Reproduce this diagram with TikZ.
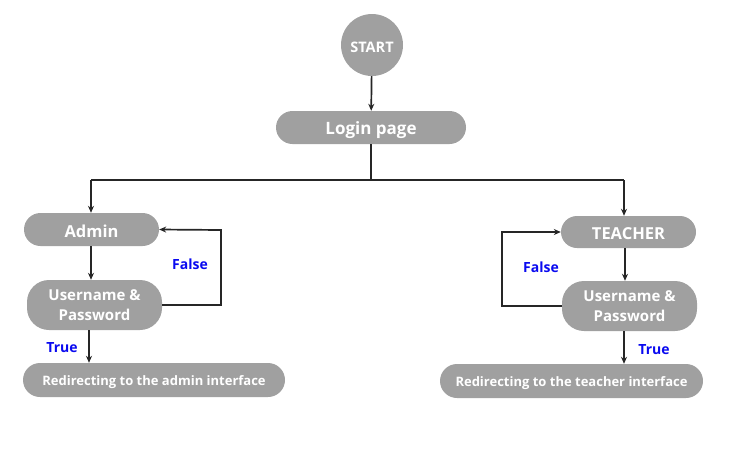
\documentclass[tikz,border=0pt]{standalone}
\usepackage{fontspec}
\setmainfont{Open Sans}
\usetikzlibrary{arrows.meta}
\definecolor{boxgray}{RGB}{160,160,160}
\definecolor{lblue}{RGB}{10,10,240}
\begin{document}
\begin{tikzpicture}[x=1pt,y=-1pt,
  box/.style={fill=boxgray,draw=none,text=white,font=\bfseries,inner sep=0pt,align=center},
  conn/.style={draw=black!85,line width=1.7pt,-{Stealth[length=7pt,width=6pt]}},
  plain/.style={draw=black!85,line width=1.7pt},
  lbl/.style={text=lblue,font=\bfseries\fontsize{14}{16}\selectfont}]
\useasboundingbox (0,0) rectangle (752,453);
\node[box,circle,minimum size=62pt,text height=14pt,text depth=0pt,font=\bfseries\fontsize{14.5}{16}\selectfont] (start) at (372,45) {START};
\node[box,minimum width=190pt,minimum height=33pt,rounded corners=16.5pt,text height=15pt,text depth=2pt,font=\bfseries\fontsize{17}{19}\selectfont] (login) at (371,127.5) {Login page};
\node[box,minimum width=135pt,minimum height=33pt,rounded corners=16.5pt,text height=15pt,text depth=0pt,font=\bfseries\fontsize{16.5}{18}\selectfont] (admin) at (91.5,229.5) {Admin};
\node[box,minimum width=135pt,minimum height=50pt,rounded corners=22pt,font=\bfseries\fontsize{15}{20}\selectfont] (usera) at (94.5,305) {Username \&\\Password};
\node[box,minimum width=262pt,minimum height=34pt,rounded corners=17pt,text height=11pt,text depth=1pt,font=\bfseries\fontsize{13}{15}\selectfont] (reda) at (154,380) {Redirecting to the admin interface};
\node[box,minimum width=135pt,minimum height=32pt,rounded corners=16pt,text height=14pt,text depth=0pt,font=\bfseries\fontsize{16.5}{18}\selectfont] (teacher) at (628.5,232) {TEACHER};
\node[box,minimum width=135pt,minimum height=50pt,rounded corners=22pt,font=\bfseries\fontsize{15}{20}\selectfont] (usert) at (629.5,306) {Username \&\\Password};
\node[box,minimum width=263pt,minimum height=34pt,rounded corners=17pt,text height=11pt,text depth=1pt,font=\bfseries\fontsize{13}{15}\selectfont] (redt) at (571.5,381) {Redirecting to the teacher interface};
\coordinate (split) at (371,180);
\coordinate (la) at (91,180);
\coordinate (ra) at (624,180);
\coordinate (fa) at (221,230);
\coordinate (ft) at (502,232);
\draw[conn] (start) -- (login);
\draw[plain] (login.south) -- (split);
\draw[conn] (la) -| ([xshift=-0.5pt]admin.north);
\draw[plain] (la) -- (ra);
\draw[conn] (ra) -- (ra |- teacher.north);
\draw[conn] ([xshift=-0.5pt]admin.south) -- ([xshift=-0.5pt]admin.south |- usera.north);
\draw[conn] (usera.east) -| (fa) -- (admin.east);
\draw[conn] (89,330) coordinate (ta) -- (ta |- reda.north);
\draw[conn] ([xshift=-3.5pt]teacher.south) -- ([xshift=-3.5pt]teacher.south |- usert.north);
\draw[conn] (usert.west) -| (ft) -- (teacher.west);
\draw[conn] (624,331) coordinate (tt) -- (tt |- redt.north);
\node[lbl] (falsea) at (190,264) {False};
\node[lbl] (truea) at (62,348) {True};
\node[lbl] (falset) at (541,267) {False};
\node[lbl] (truet) at (654,350) {True};
\end{tikzpicture}
\end{document}
